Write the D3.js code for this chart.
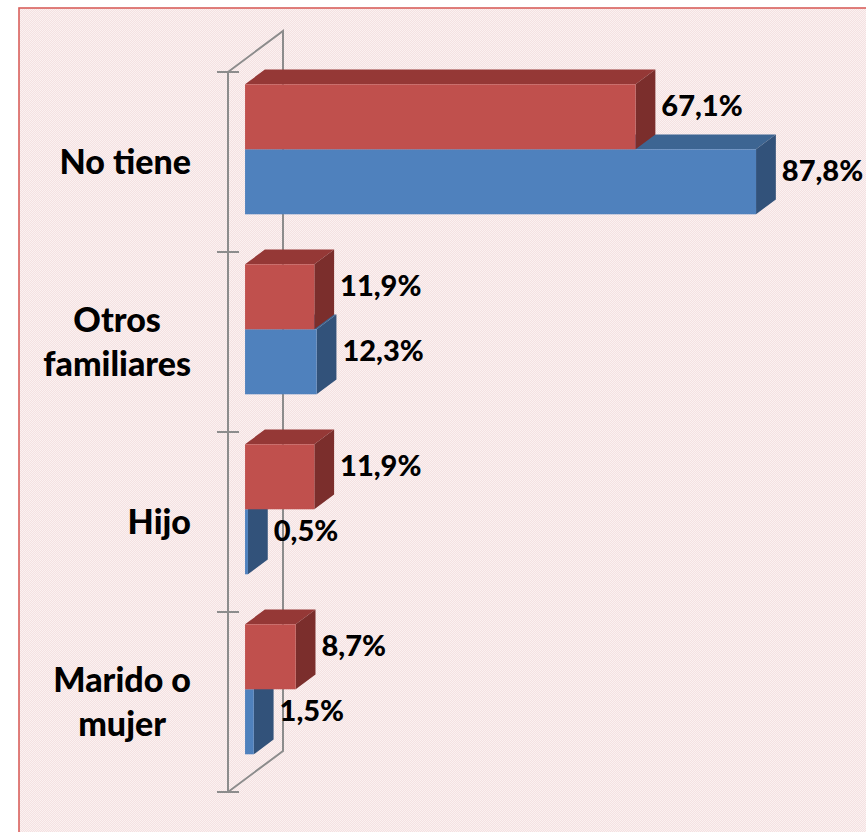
<!DOCTYPE html>
<html>
<head>
<meta charset="utf-8">
<script src="https://cdn.jsdelivr.net/npm/d3@7"></script>
<style>
  html, body { margin: 0; padding: 0; background: #ffffff; }
  svg { display: block; }
</style>
</head>
<body>
<svg id="chart" width="866" height="832"></svg>
<script>
// data
var categories = [["No tiene"], ["Otros", "familiares"], ["Hijo"], ["Marido o", "mujer"]];
var serieRoja = [67.1, 11.9, 11.9, 8.7];
var serieAzul = [87.8, 12.3, 0.5, 1.5];
var xMax = 100;

var svg = d3.select("#chart");
var W = 866, H = 832;

// plot-area pattern (pink with fine dots)
var defs = svg.append("defs");
var pat = defs.append("pattern").attr("id", "dots").attr("width", 2).attr("height", 2)
  .attr("patternUnits", "userSpaceOnUse");
pat.append("rect").attr("width", 2).attr("height", 2).attr("fill", "#f4e1e1");
pat.append("rect").attr("width", 1).attr("height", 1).attr("fill", "#fbf1f1");
pat.append("rect").attr("x", 1).attr("y", 1).attr("width", 1).attr("height", 1).attr("fill", "#fbf1f1");

svg.append("rect").attr("x", 19).attr("y", 8).attr("width", W).attr("height", H)
  .attr("fill", "url(#dots)").attr("stroke", "#d9605c").attr("stroke-width", 1.6);

// 3d geometry: wall depth and bar depth
var wallDx = 55, wallDy = -41;
var barOff = 0.31, barDepth = 0.36;   // fraction of wall depth
var offX = wallDx * barOff, offY = wallDy * barOff;
var bdX = wallDx * barDepth, bdY = wallDy * barDepth;

var y = d3.scaleBand().domain(d3.range(categories.length)).range([72, 792])
  .paddingInner(50 / 180).paddingOuter(25 / 180);
var ySub = d3.scaleBand().domain(["roja", "azul"]).range([0, y.bandwidth()]);
var x = d3.scaleLinear().domain([0, xMax]).range([228, 228 + 582]);

var axisColor = "#8c8c8c";
var ax = svg.append("g").attr("stroke", axisColor).attr("stroke-width", 2).attr("fill", "none");
var y0 = 72, y1 = 792, xa = x(0);
// back wall line + diagonals
ax.append("path").attr("d", d3.line()([[xa, y0], [xa + wallDx, y0 + wallDy], [xa + wallDx, y1 + wallDy], [xa, y1]]));
ax.append("line").attr("x1", xa).attr("x2", xa).attr("y1", y0).attr("y2", y1);
var ticks = d3.range(categories.length + 1).map(function(i) { return y0 + i * y.step(); });
ax.selectAll(".tk").data(ticks).enter().append("line")
  .attr("x1", xa - 11).attr("x2", xa + 11).attr("y1", function(d) { return d; }).attr("y2", function(d) { return d; });

var colors = {
  roja: { front: "#c0504d", top: "#953836", side: "#7b2e2c" },
  azul: { front: "#4f81bd", top: "#3d6592", side: "#32527a" }
};

function drawBar(g, v, yTop, h, c) {
  var xl = x(0) + offX, xr = x(v) + offX, yt = yTop + offY, yb = yt + h;
  g.append("path").attr("fill", c.top)
    .attr("d", d3.line()([[xl, yt], [xl + bdX, yt + bdY], [xr + bdX, yt + bdY], [xr, yt]]) + "Z");
  g.append("path").attr("fill", c.side)
    .attr("d", d3.line()([[xr, yt], [xr + bdX, yt + bdY], [xr + bdX, yb + bdY], [xr, yb]]) + "Z");
  g.append("rect").attr("x", xl).attr("y", yt).attr("width", Math.max(0, xr - xl)).attr("height", h)
    .attr("fill", c.front);
}

var fontFam = "Lato, 'Open Sans', sans-serif";
var bars = svg.append("g");
var labels = svg.append("g").attr("font-family", fontFam).attr("font-weight", 900)
  .attr("font-size", 29).attr("fill", "#000");

function fmt(v) { return d3.format(".1f")(v).replace(".", ",") + "%"; }

categories.forEach(function(cat, i) {
  var g = bars.append("g");
  // lower bar first, so the upper bar sits over its top face
  var series = [["azul", serieAzul[i]], ["roja", serieRoja[i]]];
  series.forEach(function(s) {
    drawBar(g, s[1], y(i) + ySub(s[0]), ySub.bandwidth(), colors[s[0]]);
  });
  [["roja", serieRoja[i]], ["azul", serieAzul[i]]].forEach(function(s) {
    labels.append("text")
      .attr("x", x(s[1]) + offX + bdX + 6)
      .attr("y", y(i) + ySub(s[0]) + offY + ySub.bandwidth() / 2 - 12)
      .attr("dominant-baseline", "central")
      .text(fmt(s[1]));
  });
});

// category labels: block right-aligned, lines centred within block
var catG = svg.append("g").attr("font-family", fontFam).attr("font-weight", 900)
  .attr("font-size", 34).attr("fill", "#000");
var lineH = 44;
categories.forEach(function(lines, i) {
  var cy = y0 + (i + 0.5) * y.step();
  var t = catG.append("text").attr("text-anchor", "middle");
  lines.forEach(function(l, j) {
    t.append("tspan").attr("x", 0)
      .attr("y", cy + 12 + (j - (lines.length - 1) / 2) * lineH).text(l);
  });
  var w = t.node().getBBox().width;
  t.selectAll("tspan").attr("x", 191 - w / 2);
});
</script>
</body>
</html>
